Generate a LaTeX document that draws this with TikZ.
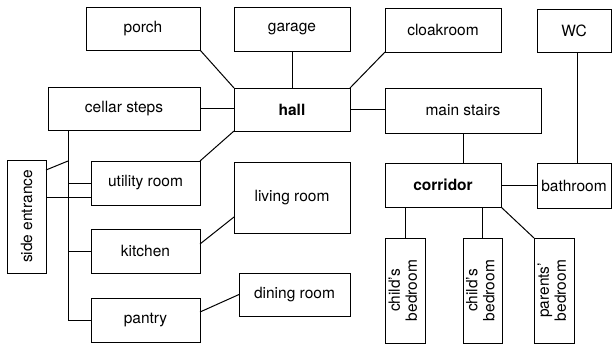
\documentclass[tikz,border=0pt]{standalone}
\usepackage{fontspec}
\setmainfont{TeX Gyre Heros}
\begin{document}
\begin{tikzpicture}[x=1pt,y=-1pt,line width=1pt,
  room/.style={draw, rectangle, inner sep=0pt, outer sep=0pt, align=center,
    font=\fontsize{15.5}{17}\selectfont},
  link/.style={line width=1pt}]
\useasboundingbox (0,0) rectangle (612,346);
% top row
\node[room, minimum width=114pt, minimum height=43pt] (porch) at (143,28.5) {porch};
\node[room, minimum width=116pt, minimum height=44pt] (garage) at (292,29) {garage};
\node[room, minimum width=116pt, minimum height=44pt] (cloak) at (443,30) {cloakroom};
\node[room, minimum width=74pt, minimum height=43pt] (wc) at (574,30.5) {WC};
% second row
\node[room, minimum width=152pt, minimum height=43pt] (cellar) at (124,108.5) {cellar steps};
\node[room, minimum width=116pt, minimum height=43pt, font=\fontsize{15.5}{17}\selectfont\bfseries] (hall) at (292,109.5) {hall};
\node[room, minimum width=156pt, minimum height=45pt] (stairs) at (463,110.5) {main stairs};
% left column
\node[room, minimum width=39pt, minimum height=113pt] (side) at (26.5,216.5) {\rotatebox{90}{side entrance}};
\node[room, minimum width=109pt, minimum height=44pt] (utility) at (145.5,183) {utility room};
\node[room, minimum width=109pt, minimum height=44pt] (kitchen) at (145.5,251) {kitchen};
\node[room, minimum width=109pt, minimum height=44pt] (pantry) at (145.5,320) {pantry};
\node[room, minimum width=116pt, minimum height=71pt] (living) at (292,197.5) {living room};
\node[room, minimum width=111pt, minimum height=43pt] (dining) at (294.5,294.5) {dining room};
% right part
\node[room, minimum width=116pt, minimum height=44pt, font=\fontsize{15.5}{17}\selectfont\bfseries] (corridor) at (443,185) {corridor};
\node[room, minimum width=74pt, minimum height=45pt] (bath) at (574,185.5) {bathroom};
\node[room, minimum width=40pt, minimum height=105pt] (child1) at (405,290.5) {\rotatebox{90}{\begin{tabular}{@{}c@{}}child’s\\bedroom\end{tabular}}};
\node[room, minimum width=39pt, minimum height=105pt] (child2) at (482.5,290.5) {\rotatebox{90}{\begin{tabular}{@{}c@{}}child’s\\bedroom\end{tabular}}};
\node[room, minimum width=40pt, minimum height=105pt] (parents) at (554,290.5) {\rotatebox{90}{\begin{tabular}{@{}c@{}}parents’\\bedroom\end{tabular}}};
% connectors around hall
\draw[link] (porch.south east) -- (hall.north west);
\draw[link] (garage.south) -- (hall.north);
\draw[link] (cloak.south west) -- (hall.north east);
\draw[link] (cellar.east) -- (cellar.east -| hall.west);
\draw[link] (hall.east) -- (hall.east -| stairs.west);
\draw[link] (hall.south west) -- (utility.north east);
% upstairs
\draw[link] (stairs.south) -- (stairs.south |- corridor.north);
\draw[link] (wc.south -| 577,0) -- (bath.north -| 577,0);
\draw[link] (corridor.east) -- (corridor.east -| bath.west);
\draw[link] (child1.north) -- (child1.north |- corridor.south);
\draw[link] (child2.north) -- (child2.north |- corridor.south);
\draw[link] (corridor.south east) -- (parents.north west);
% ground floor rooms
\draw[link] ([yshift=7pt]kitchen.east) -- ([yshift=-19.5pt]living.west);
\draw[link] ([yshift=8pt]pantry.east) -- (dining.west);
% left tree
\coordinate (t) at (68,0);
\draw[link] (t |- cellar.south) -- (t |- pantry.west) -- (pantry.west);
\draw[link] (t |- utility.west) -- (utility.west);
\draw[link] (t |- kitchen.west) -- (kitchen.west);
\draw[link] ([yshift=-14pt]utility.west) -- ([yshift=-14pt]utility.west -| side.east);
\draw[link] ([yshift=-10pt]side.north east) -- (t |- utility.north);
\end{tikzpicture}
\end{document}
